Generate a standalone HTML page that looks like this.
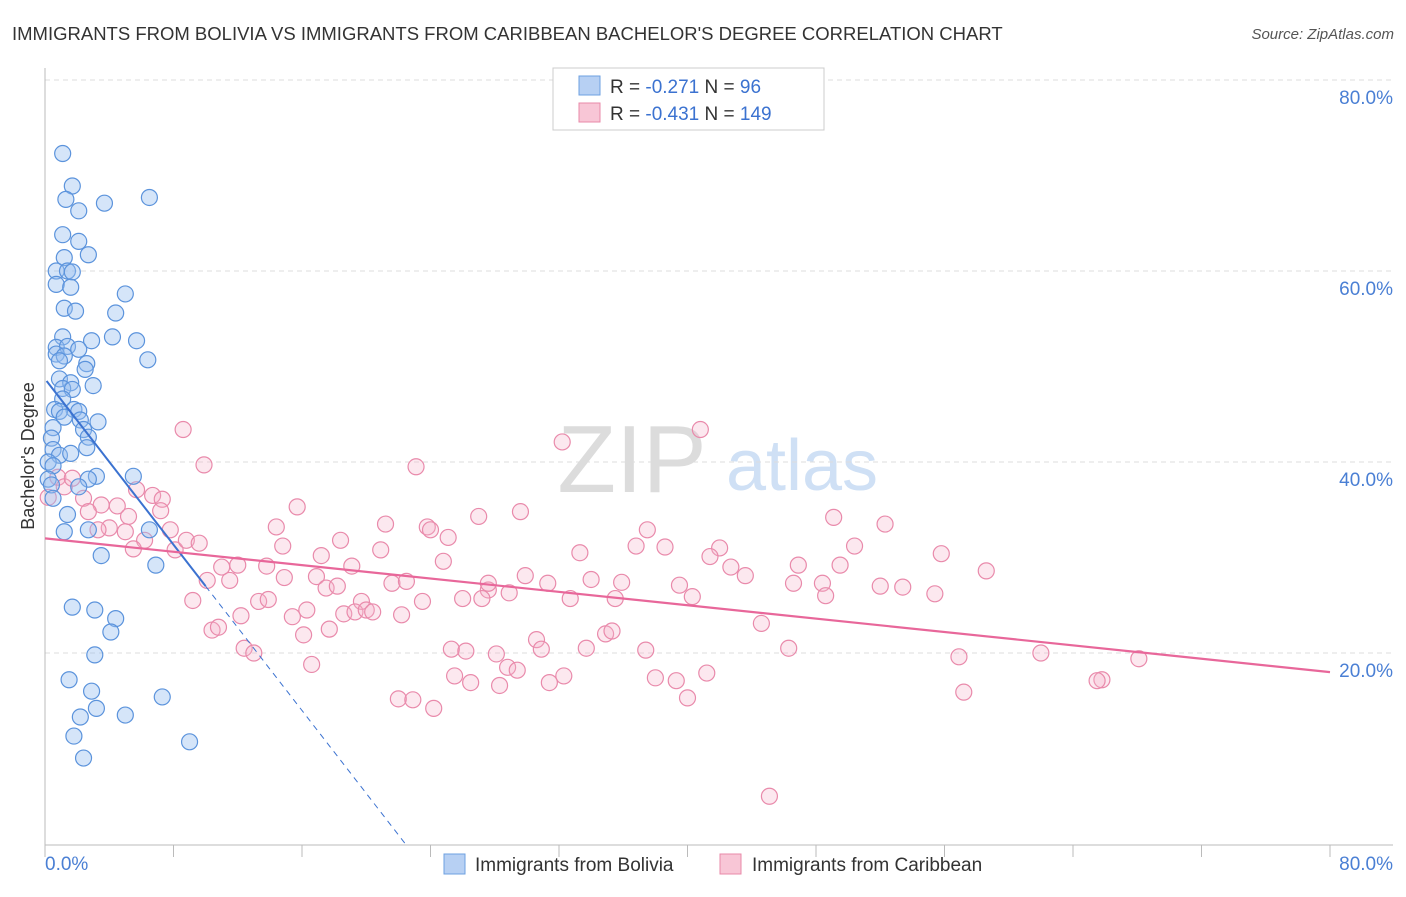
<!DOCTYPE html>
<html><head><meta charset="utf-8"><style>
body{margin:0;background:#fff;font-family:"Liberation Sans",sans-serif}
svg text{font-family:"Liberation Sans",sans-serif}
</style></head><body>
<svg id="c" width="1406" height="892" viewBox="0 0 1406 892" xmlns="http://www.w3.org/2000/svg">
<text x="12" y="40" font-size="18.5" fill="#333">IMMIGRANTS FROM BOLIVIA VS IMMIGRANTS FROM CARIBBEAN BACHELOR'S DEGREE CORRELATION CHART</text>
<text x="1394" y="39" font-size="15" fill="#555" font-style="italic" text-anchor="end">Source: ZipAtlas.com</text>
<g><text x="632" y="492" font-size="96" fill="#dcdcdc" font-family="Liberation Serif" text-anchor="middle">ZIP</text><text x="802" y="490" font-size="72" fill="#cfe0f5" text-anchor="middle">atlas</text></g>
<g id="grid"></g><g id="axes"></g><g id="pts"></g><g id="lines"></g>
<text transform="translate(34,456) rotate(-90)" font-size="18" fill="#333" text-anchor="middle">Bachelor's Degree</text>
<g>
<rect x="553" y="68" width="271" height="62" fill="#fff" stroke="#ccc"/>
<rect x="579" y="76" width="21" height="19" fill="#b7d0f3" stroke="#6ea0e0"/>
<rect x="579" y="103" width="21" height="19" fill="#f8c6d6" stroke="#e889a8"/>
<text x="610" y="93" font-size="19" fill="#333">R = <tspan fill="#3b72d0">-0.271</tspan>   N = <tspan fill="#3b72d0">  96</tspan></text>
<text x="610" y="120" font-size="19" fill="#333">R = <tspan fill="#3b72d0">-0.431</tspan>   N = <tspan fill="#3b72d0">149</tspan></text>
</g>
<g>
<rect x="444" y="854" width="21" height="20" fill="#b7d0f3" stroke="#6ea0e0"/>
<text x="475" y="871" font-size="19" fill="#333">Immigrants from Bolivia</text>
<rect x="720" y="854" width="21" height="20" fill="#f8c6d6" stroke="#e889a8"/>
<text x="752" y="871" font-size="19" fill="#333">Immigrants from Caribbean</text>
</g>
</svg>
<script>
const blueX=[1.1,1.7,1.3,3.7,6.5,2.1,1.1,2.1,2.7,1.2,0.7,1.4,1.7,0.7,1.6,5.0,1.2,1.9,4.4,1.1,4.2,5.7,2.9,0.7,1.4,2.1,0.7,1.2,6.4,0.9,2.6,2.5,0.9,1.6,3.0,1.1,1.7,1.1,0.6,1.8,2.1,0.9,1.2,3.3,2.2,0.5,2.4,2.7,0.4,2.6,0.5,0.9,1.6,0.2,0.5,3.2,5.5,2.7,0.2,0.4,2.1,0.5,1.4,1.2,2.7,6.5,3.5,6.9,1.7,3.1,4.4,4.1,3.1,1.5,2.9,7.3,3.2,5.0,2.2,1.8,9.0,2.4];
const blueY=[72.3,68.9,67.5,67.1,67.7,66.3,63.8,63.1,61.7,61.4,60.0,60.0,59.9,58.6,58.3,57.6,56.1,55.8,55.6,53.1,53.1,52.7,52.7,52.0,52.1,51.8,51.3,51.1,50.7,50.6,50.3,49.7,48.7,48.3,48.0,47.7,47.6,46.6,45.5,45.5,45.3,45.3,44.7,44.2,44.4,43.6,43.4,42.6,42.5,41.5,41.3,40.7,40.9,40.0,39.6,38.5,38.5,38.2,38.2,37.6,37.4,36.2,34.5,32.7,32.9,32.9,30.2,29.2,24.8,24.5,23.6,22.2,19.8,17.2,16.0,15.4,14.2,13.5,13.3,11.3,10.7,9.0];
const pinkX=[8.6,9.9,23.1,32.2,40.8,0.2,0.8,1.2,1.7,2.4,3.5,4.5,5.7,6.7,7.3,2.7,5.2,7.2,4.0,5.0,6.2,7.8,3.3,5.5,8.1,8.8,9.6,15.7,14.4,14.8,18.4,21.2,20.9,23.8,24.0,25.1,27.0,29.6,33.3,36.8,37.5,38.6,42.0,41.4,49.1,52.3,50.4,55.8,58.6,12.0,11.0,10.1,11.5,13.8,14.9,17.2,16.9,17.5,18.2,19.1,21.6,22.5,24.8,27.6,27.6,28.9,29.9,31.3,34.0,35.9,39.5,42.7,43.6,46.6,46.9,48.4,49.5,52.0,53.4,55.4,9.2,13.3,13.9,16.3,15.4,12.2,18.6,19.7,19.3,20.0,20.4,22.2,23.5,26.0,27.2,32.7,35.5,40.3,48.6,10.4,10.8,16.1,17.7,34.9,35.3,44.6,12.4,13.0,25.3,26.2,28.1,30.6,30.9,33.7,37.4,46.3,56.9,62.0,68.1,16.6,28.8,29.4,25.5,26.5,28.3,32.3,31.4,38.0,39.3,41.2,65.8,65.5,57.2,22.0,22.9,24.2,40.0,45.1];
const pinkY=[43.4,39.7,39.5,42.1,43.4,36.3,38.4,37.4,38.3,36.2,35.5,35.4,37.1,36.5,36.1,34.8,34.3,34.9,33.1,32.7,31.8,32.9,32.9,30.9,30.8,31.8,31.5,35.3,33.2,31.2,31.8,33.5,30.8,33.2,32.9,32.1,34.3,34.8,30.5,31.2,32.9,31.1,31.0,30.1,34.2,33.5,31.2,30.4,28.6,29.2,29.0,27.6,27.6,29.1,27.9,30.2,28.0,26.8,27.0,29.1,27.3,27.5,29.6,26.6,27.3,26.3,28.1,27.3,27.7,27.4,27.1,29.0,28.1,27.3,29.2,27.3,29.2,27.0,26.9,26.2,25.5,25.4,25.6,24.5,23.8,23.9,24.1,25.4,24.3,24.5,24.3,24.0,25.4,25.7,25.7,25.7,25.7,25.9,26.0,22.4,22.7,21.9,22.5,22.0,22.3,23.1,20.5,20.0,20.4,20.2,19.9,21.4,20.4,20.5,20.3,20.5,19.6,20.0,19.4,18.8,18.5,18.2,17.6,16.9,16.6,17.6,16.9,17.4,17.1,17.9,17.2,17.1,15.9,15.2,15.1,14.2,15.3,5.0];
const yTicks=[20,40,60,80];
const yTickLabels=["20.0%","40.0%","60.0%","80.0%"];
const blueTrend=[48.7,-2.17]; // intercept, slope
const pinkTrend=[32.0,-0.175];
const NS="http://www.w3.org/2000/svg";
const X=v=>45+v*(1330-45)/80, Y=v=>844-v*(844-653)/20;
function mk(p,t,a){const e=document.createElementNS(NS,t);for(const k in a)e.setAttribute(k,a[k]);document.getElementById(p).appendChild(e);return e;}
yTicks.forEach((t,i)=>{
 const g=mk('grid','line',{x1:45,x2:1393,y1:Y(t),y2:Y(t),stroke:'#ddd','stroke-dasharray':'5,4'});
 
 
 const l=mk('grid','text',{x:1393,y:Y(t)+24,'font-size':19,fill:'#4a7fd4','text-anchor':'end'});
 l.textContent=yTickLabels[i];
 
 
});
const ax=mk('axes','path',{d:'M45,68V845H1393',stroke:'#bbb',fill:'none'});


for(let i=0;i<=10;i++){const t=mk('axes','line',{x1:X(i*8),x2:X(i*8),y1:845,y2:857,stroke:'#bbb'});
 
 }
const x0=mk('axes','text',{x:45,y:870,'font-size':19,fill:'#4a7fd4'});x0.textContent='0.0%';


const x1=mk('axes','text',{x:1393,y:870,'font-size':19,fill:'#4a7fd4','text-anchor':'end'});x1.textContent='80.0%';


pinkX.forEach((v,i)=>{const c=mk('pts','circle',{cx:X(v),cy:Y(pinkY[i]),r:8,fill:'rgba(246,180,202,0.3)',stroke:'#e98aab','stroke-width':1.2});
 
 });
blueX.forEach((v,i)=>{const c=mk('pts','circle',{cx:X(v),cy:Y(blueY[i]),r:8,fill:'rgba(150,190,240,0.4)',stroke:'#5b93dc','stroke-width':1.2});
 
 });
const bz=-blueTrend[0]/blueTrend[1];
const bl=mk('lines','line',{x1:X(0.1),y1:Y(blueTrend[0]+blueTrend[1]*0.1),x2:X(10),y2:Y(blueTrend[0]+blueTrend[1]*10),stroke:'#3b72d0','stroke-width':2});


const bd=mk('lines','line',{x1:X(10),y1:Y(blueTrend[0]+blueTrend[1]*10),x2:X(bz),y2:Y(0),stroke:'#3b72d0','stroke-width':1,'stroke-dasharray':'6,5'});


const pl=mk('lines','line',{x1:X(0),y1:Y(pinkTrend[0]),x2:X(80),y2:Y(pinkTrend[0]+pinkTrend[1]*80),stroke:'#e8679a','stroke-width':2.2});


</script>
</body></html>
